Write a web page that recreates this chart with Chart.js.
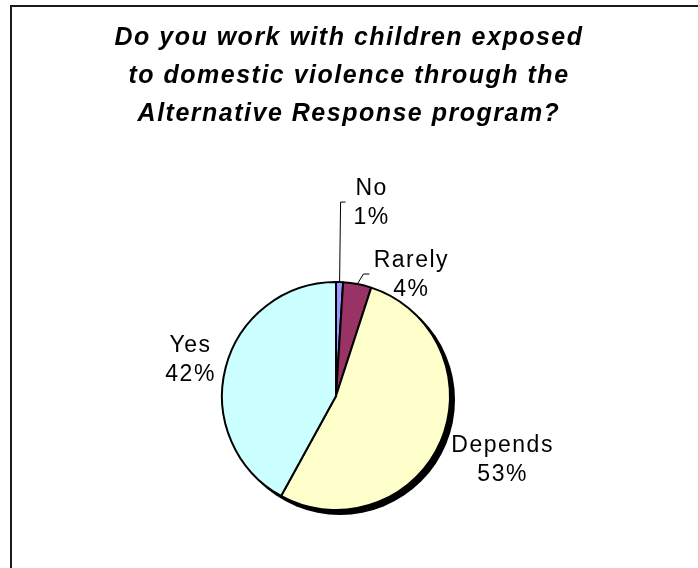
<!DOCTYPE html>
<html>
<head>
<meta charset="utf-8">
<title>Alternative Response program</title>
<script src="https://cdn.jsdelivr.net/npm/chart.js@4.4.0/dist/chart.umd.min.js"></script>
<style>
  html, body { margin: 0; padding: 0; background: #fff; }
  #wrap { width: 698px; height: 568px; }
</style>
</head>
<body>
<div id="wrap"><canvas id="pieChart" width="698" height="568"></canvas></div>
<script>
const titleLines = [
  "Do you work with children exposed",
  "to domestic violence through the",
  "Alternative Response program?"
];
const categories = ["No", "Rarely", "Depends", "Yes"];
const percentages = [1, 4, 53, 42];
const sliceColors = ["#9999FF", "#993366", "#FFFFCC", "#CCFFFF"];

// where each label block sits, relative to the middle of its slice's rim
const labelOffsets = [
  { dx: 32, dy: -79, leader: { dx: 1, dy: -80, tick: 5 } },
  { dx: 54, dy: -9, leader: { dx: 6, dy: -10, tick: 6 } },
  { dx: 62, dy: 19, leader: null },
  { dx: -35, dy: -7, leader: null }
];

const labelFont = '23px "Liberation Sans", Arial, sans-serif';
const titleFont = 'italic bold 25px "Liberation Sans", Arial, sans-serif';

const pieDecor = {
  id: "pieDecor",
  beforeDraw(chart) {
    const ctx = chart.ctx;
    ctx.save();
    ctx.strokeStyle = "#1a1a1a";
    ctx.lineWidth = 2;
    ctx.beginPath();
    ctx.moveTo(11, chart.height);
    ctx.lineTo(11, 6);
    ctx.lineTo(chart.width, 6);
    ctx.stroke();

    ctx.fillStyle = "#000";
    ctx.font = titleFont;
    ctx.letterSpacing = "1.5px";
    ctx.textAlign = "center";
    ctx.textBaseline = "alphabetic";
    titleLines.forEach((line, i) => {
      ctx.fillText(line, chart.width / 2, 45 + i * 38);
    });
    ctx.restore();
  },
  beforeDatasetsDraw(chart) {
    const arc = chart.getDatasetMeta(0).data[0];
    const ctx = chart.ctx;
    ctx.save();
    ctx.fillStyle = "#000";
    ctx.beginPath();
    ctx.arc(arc.x + 4, arc.y + 4, arc.outerRadius + 1, 0, Math.PI * 2);
    ctx.fill();
    ctx.restore();
  },
  afterDatasetsDraw(chart) {
    const ctx = chart.ctx;
    const arcs = chart.getDatasetMeta(0).data;
    ctx.save();
    ctx.font = labelFont;
    ctx.letterSpacing = "1.5px";
    ctx.fillStyle = "#000";
    ctx.textAlign = "center";
    ctx.textBaseline = "middle";
    arcs.forEach((arc, i) => {
      const mid = (arc.startAngle + arc.endAngle) / 2;
      const ex = arc.x + Math.cos(mid) * arc.outerRadius;
      const ey = arc.y + Math.sin(mid) * arc.outerRadius;
      const off = labelOffsets[i];
      const lx = ex + off.dx;
      const ly = ey + off.dy;
      ctx.fillText(categories[i], lx, ly - 14.5);
      ctx.fillText(percentages[i] + "%", lx, ly + 14.5);

      if (off.leader) {
        const bx = ex + off.leader.dx;
        const by = ey + off.leader.dy;
        ctx.strokeStyle = "#000";
        ctx.lineWidth = 1;
        ctx.beginPath();
        ctx.moveTo(ex, ey);
        ctx.lineTo(bx, by);
        ctx.lineTo(bx + off.leader.tick, by);
        ctx.stroke();
      }
    });
    ctx.restore();
  }
};

new Chart(document.getElementById("pieChart"), {
  type: "pie",
  data: {
    labels: categories,
    datasets: [
      {
        data: percentages,
        backgroundColor: sliceColors,
        borderColor: "#000",
        borderWidth: 2
      }
    ]
  },
  options: {
    responsive: false,
    animation: false,
    devicePixelRatio: 1,
    layout: {
      padding: { top: 281, bottom: 57, left: 0, right: 26 }
    },
    plugins: {
      legend: { display: false },
      tooltip: { enabled: false },
      title: { display: false }
    }
  },
  plugins: [pieDecor]
});
</script>
</body>
</html>
